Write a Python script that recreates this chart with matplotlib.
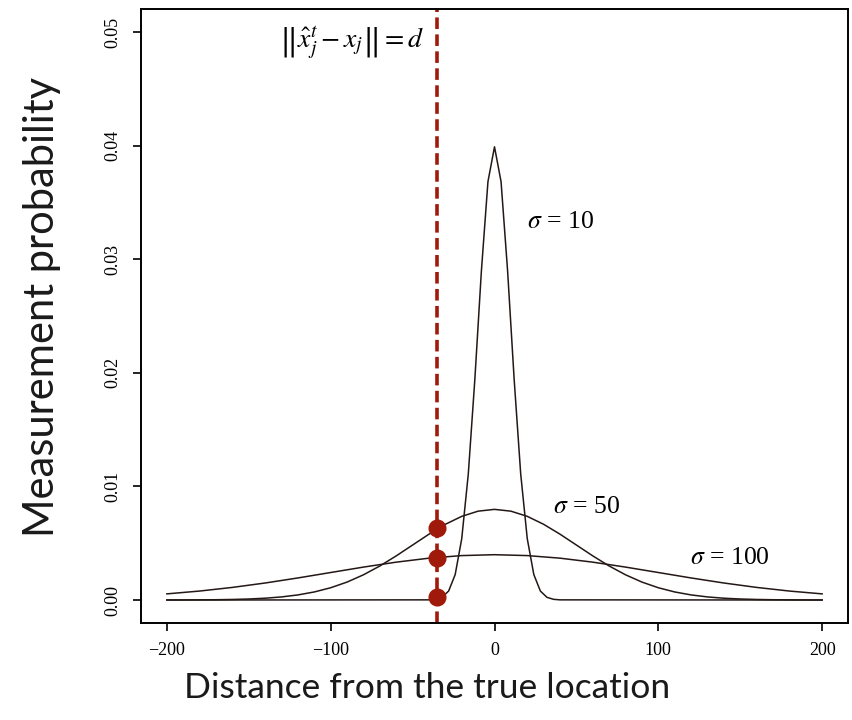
import matplotlib
matplotlib.use("Agg")
import matplotlib.pyplot as plt

# sigma = 10 (coarse grid, step 4 around the peak)
x_s10 = [-200, -40, -36, -32, -28, -24, -20, -16, -12, -8, -4, 0,
         4, 8, 12, 16, 20, 24, 28, 32, 36, 40, 200]
y_s10 = [0.0, 0.0000134, 0.0000612, 0.000238, 0.000792, 0.00224, 0.005399,
         0.011092, 0.019419, 0.028969, 0.036827, 0.039894,
         0.036827, 0.028969, 0.019419, 0.011092, 0.005399, 0.00224,
         0.000792, 0.000238, 0.0000612, 0.0000134, 0.0]

# sigma = 50
x_s50 = [-200, -190, -180, -170, -160, -150, -140, -130, -120, -110, -100,
         -90, -80, -70, -60, -50, -40, -30, -20, -10, 0,
         10, 20, 30, 40, 50, 60, 70, 80, 90, 100,
         110, 120, 130, 140, 150, 160, 170, 180, 190, 200]
y_s50 = [0.0000027, 0.0000058, 0.0000122, 0.0000246, 0.0000477, 0.0000886,
         0.000158, 0.000272, 0.000448, 0.000709, 0.00108,
         0.001579, 0.002218, 0.002995, 0.003884, 0.004839, 0.005794,
         0.006664, 0.007365, 0.007821, 0.007979,
         0.007821, 0.007365, 0.006664, 0.005794, 0.004839, 0.003884,
         0.002995, 0.002218, 0.001579, 0.00108,
         0.000709, 0.000448, 0.000272, 0.000158, 0.0000886, 0.0000477,
         0.0000246, 0.0000122, 0.0000058, 0.0000027]

# sigma = 100
x_s100 = [-200, -180, -160, -140, -120, -100, -80, -60, -40, -20, 0,
          20, 40, 60, 80, 100, 120, 140, 160, 180, 200]
y_s100 = [0.00054, 0.000789, 0.001109, 0.001497, 0.001942, 0.00242,
          0.002897, 0.003332, 0.003683, 0.00391, 0.003989,
          0.00391, 0.003683, 0.003332, 0.002897, 0.00242, 0.001942,
          0.001497, 0.001109, 0.000789, 0.00054]

d_x = -35
dot_y = [0.0063, 0.0037, 0.0003]

x_ticks = [-200, -100, 0, 100, 200]
x_ticklabels = ["\u2212200", "\u2212100", "0", "100", "200"]
y_ticks = [0.00, 0.01, 0.02, 0.03, 0.04, 0.05]
y_ticklabels = ["0.00", "0.01", "0.02", "0.03", "0.04", "0.05"]

plt.rcParams["mathtext.fontset"] = "stix"

fig = plt.figure(figsize=(8.52, 7.2), dpi=100)
ax = fig.add_axes([0.1651, 0.1351, 0.8306, 0.852])

line_col = "#231815"
red = "#A01A0B"

ax.plot(x_s10, y_s10, color=line_col, lw=1.1)
ax.plot(x_s50, y_s50, color=line_col, lw=1.1)
ax.plot(x_s100, y_s100, color=line_col, lw=1.1)

ax.axvline(d_x, color=red, lw=2.6, dashes=(3.2, 1.5))
ax.plot([d_x] * len(dot_y), dot_y, "o", color=red, ms=12, zorder=5)

serif = "Liberation Serif"
ax.text(40.5, 0.0333, r"$\sigma$ = 10", fontsize=18.5, family=serif,
        ha="center", va="center")
ax.text(56, 0.0082, r"$\sigma$ = 50", fontsize=18.5, family=serif,
        ha="center", va="center")
ax.text(144, 0.0037, r"$\sigma$ = 100", fontsize=18.5, family=serif,
        ha="center", va="center")
ax.text(-87, 0.0490, r"$\left\Vert\hat{x}_j^t - x_j\right\Vert = d$",
        fontsize=20, ha="center", va="center")

ax.set_xlim(-216, 216)
ax.set_ylim(-0.002, 0.052)
ax.set_xticks(x_ticks)
ax.set_xticklabels(x_ticklabels, fontfamily=serif, fontsize=13)
ax.set_yticks(y_ticks)
ax.set_yticklabels(y_ticklabels, fontfamily=serif, fontsize=13,
                   rotation=90, va="center")
ax.tick_params(direction="out", length=6, width=1.2, pad=8)

for s in ax.spines.values():
    s.set_linewidth(1.4)

fig.text(0.501, 0.044, "Distance from the true location", family="Lato",
         fontsize=25.5, ha="center", va="center", color="#1a1a1a")
fig.text(0.049, 0.574, "Measurement probability", family="Lato",
         fontsize=30, ha="center", va="center", rotation=90,
         color="#1a1a1a")

fig.savefig("out.png", dpi=100)
